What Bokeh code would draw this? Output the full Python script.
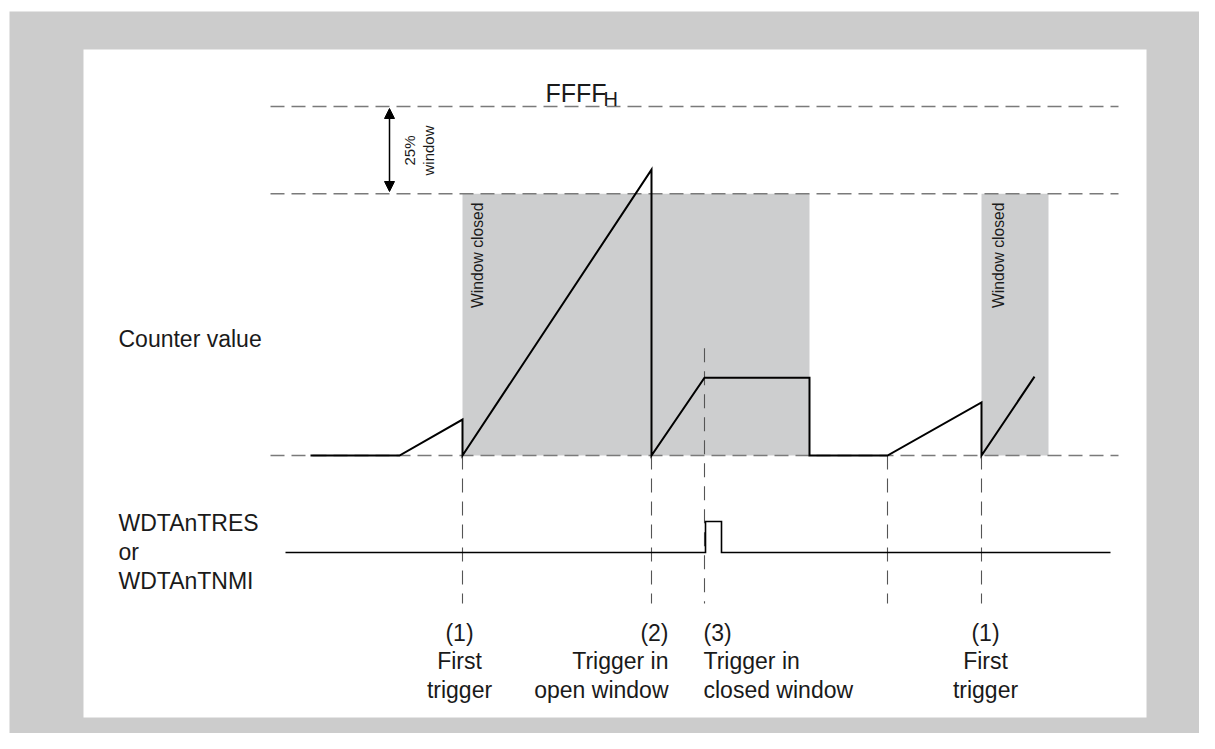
import math
from bokeh.plotting import figure
from bokeh.models import Range1d, Arrow, NormalHead
from bokeh.core.properties import value
from bokeh.embed import file_html
from bokeh.resources import INLINE

# ---------------- data ----------------
# counter value as % of FFFF_H over time (time in diagram units)
counter_t = [310, 399, 462, 462, 651, 651, 704, 809, 809, 887, 981, 981, 1034]
counter_v = [0, 0, 10.3, 0, 81.9, 0, 22.3, 22.3, 0, 0, 15.2, 0, 22.6]

# WDTAnTRES / WDTAnTNMI output level (0 = low, 1 = high)
wdt_t = [285, 705, 705, 721, 721, 1110]
wdt_level = [0, 0, 1, 1, 0, 0]

# reference levels (% of FFFF_H)
ref_levels = [0, 75, 100]
ref_t_start = 270
ref_t_end = 1118

# closed-window periods
window_start = [462, 981]
window_end = [809, 1048]
window_low = 0
window_high = 75

# trigger instants (vertical markers) and the counter level where marker starts
trigger_t = [462, 651, 704, 887, 981]
trigger_top = [0, 0, 30.7, 0, 0]

# trigger annotations
trig_labels = ["(1)\nFirst\ntrigger", "(2)\nTrigger in\nopen window",
               "(3)\nTrigger in\nclosed window", "(1)\nFirst\ntrigger"]

# ---------------- geometry helpers ----------------
BASE_PY = 455.0
PX_PER_PCT = 3.49


def Y(py):
    return (BASE_PY - py) / PX_PER_PCT


W, H = 1199, 733
p = figure(width=W, height=H, output_backend="svg", toolbar_location=None,
           x_range=Range1d(0, W), y_range=Range1d(Y(H), Y(0)),
           min_border=0, background_fill_color="white", border_fill_color="white")
p.axis.visible = False
p.grid.visible = False
p.outline_line_color = None

FONT = value("Liberation Sans")
TXT = "#1a1a1a"

# frame
p.quad(left=[9], right=[W + 20], top=[Y(11)], bottom=[Y(H + 20)], fill_color="#cccccc", line_color=None)
p.quad(left=[83], right=[1146], top=[Y(49)], bottom=[Y(717)], fill_color="white", line_color=None)

# closed windows
p.quad(left=window_start, right=window_end, top=[window_high] * 2, bottom=[window_low] * 2,
       fill_color="#cdcecf", line_color=None)

# reference dashed lines
for lv in ref_levels:
    p.line([ref_t_start, ref_t_end], [lv, lv], line_color="#7a7a7a", line_width=1.6, line_dash="14 7")

# trigger markers
marker_bottom = Y(603)
for t, top in zip(trigger_t, trigger_top):
    p.line([t, t], [top, marker_bottom], line_color="#555555", line_width=1.1, line_dash="14 9")

# counter waveform
p.line(counter_t, counter_v, line_color="black", line_width=2, line_join="miter")

# output signal
lo, hi = Y(552), Y(521)
p.line(wdt_t, [lo + l * (hi - lo) for l in wdt_level], line_color="black", line_width=1.6, line_join="miter")

# 25% window arrow
p.add_layout(Arrow(x_start=389, y_start=Y(191), x_end=389, y_end=Y(108),
                   line_color="black", line_width=1.5,
                   start=NormalHead(size=10, fill_color="black", line_color="black"),
                   end=NormalHead(size=10, fill_color="black", line_color="black")))
p.text(x=[409, 428], y=[Y(150), Y(150)], text=["25%", "window"], angle=math.pi / 2,
       text_align="center", text_baseline="middle", text_font=FONT, text_font_size="15px",
       text_color=TXT)

# Window closed labels
p.text(x=[477, 998], y=[Y(202), Y(202)], text=["Window closed", "Window closed"], angle=math.pi / 2,
       text_align="right", text_baseline="middle", text_font=FONT, text_font_size="15.7px",
       text_color=TXT)

# FFFF_H
p.text(x=[545], y=[Y(92)], text=["FFFF"], text_align="left", text_baseline="alphabetic",
       text_font=FONT, text_font_size="25px", text_color=TXT)
p.text(x=[603], y=[Y(98)], text=["H"], text_align="left", text_baseline="alphabetic",
       text_font=FONT, text_font_size="20px", text_color=TXT)

# left labels
p.text(x=[118], y=[Y(338)], text=["Counter value"], text_align="left", text_baseline="alphabetic",
       text_font=FONT, text_font_size="23px", text_color=TXT)
for s, py in zip(["WDTAnTRES", "or", "WDTAnTNMI"], [522, 551, 580]):
    p.text(x=[118], y=[Y(py)], text=[s], text_align="left", text_baseline="alphabetic",
           text_font=FONT, text_font_size="23px", text_color=TXT)

# trigger annotations
label_x = [459, 668, 703, 985]
label_align = ["center", "right", "left", "center"]
for lab, lx, al in zip(trig_labels, label_x, label_align):
    for i, line in enumerate(lab.split("\n")):
        p.text(x=[lx], y=[Y(632 + 28.5 * i)], text=[line], text_align=al, text_baseline="alphabetic",
               text_font=FONT, text_font_size="23px", text_color=TXT)

open("out.html", "w").write(file_html(p, INLINE))
